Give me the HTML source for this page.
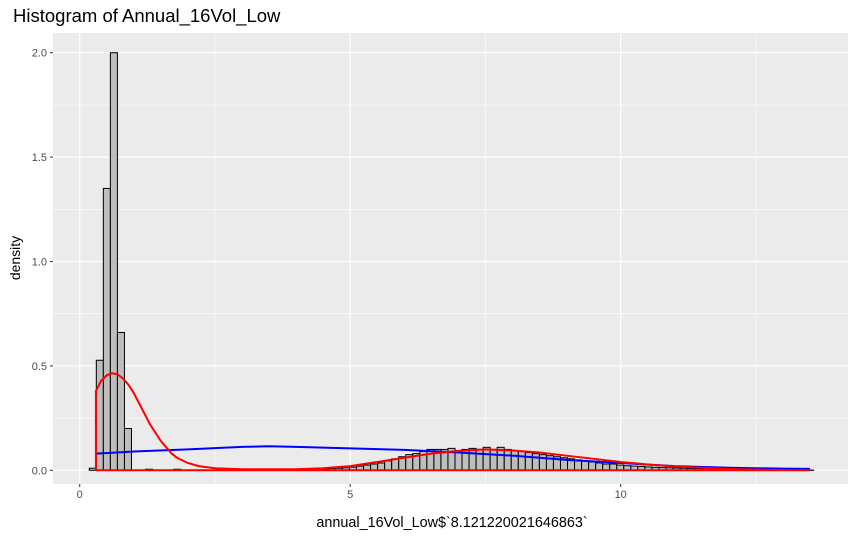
<!DOCTYPE html>
<html><head><meta charset="utf-8"><style>
body{margin:0;background:#fff;font-family:"Liberation Sans",Arial,sans-serif}
svg{display:block}
</style></head><body>
<svg id="chart" width="861" height="537">
<text x="13" y="22" font-size="18.5" fill="#000">Histogram of Annual_16Vol_Low</text>
<rect x="53" y="33" width="795" height="451" fill="#ebebeb"/>
<g id="grid"></g><g id="bars"></g><g id="curves"></g><g id="axes"></g>
<text x="452" y="527" text-anchor="middle" font-size="14.4" fill="#000">annual_16Vol_Low$`8.121220021646863`</text>
<text transform="translate(20,258) rotate(-90)" text-anchor="middle" font-size="14" fill="#000">density</text>
</svg>
<script>
const binStart = 0.177, binWidth = 0.13;
const densities = [0.01,0.527,1.35,2.0,0.66,0.2,0,0,0.005,0,0,0,0.005,0,0,0,0,0,0,0,0,0,0,0,0,0,0,0,0,0,
0.003,0.003,0.005,0.005,0.008,0.01,0.012,0.015,0.02,0.025,0.03,0.035,0.045,0.055,0.065,0.075,0.08,0.09,0.1,0.1,
0.1,0.105,0.095,0.1,0.105,0.1,0.11,0.1,0.11,0.1,0.095,0.09,0.085,0.08,0.075,0.07,0.065,0.06,0.055,0.05,
0.045,0.04,0.035,0.03,0.03,0.025,0.022,0.02,0.018,0.016,0.014,0.013,0.012,0.011,0.01,0.009,0.008,0.008,0.007,0.006,
0.006,0.005,0.005,0.004,0.004,0.003,0.003,0.003,0.002,0.002,0.002,0.002,0.001];
const redX = [0.3,0.3,0.4,0.5,0.6,0.7,0.8,0.9,1.0,1.1,1.2,1.3,1.4,1.5,1.6,1.7,1.8,2.0,2.2,2.5,3,4,4.5,5,5.5,6,6.5,7,7.5,8,8.5,9,9.5,10,10.5,11,11.5,12,12.5,13,13.5,0.3];
const redY = [0,0.38,0.43,0.455,0.465,0.46,0.44,0.41,0.37,0.32,0.27,0.22,0.18,0.14,0.11,0.08,0.06,0.035,0.02,0.01,0.005,0.005,0.01,0.02,0.04,0.06,0.08,0.093,0.1,0.095,0.085,0.07,0.055,0.04,0.028,0.018,0.012,0.006,0.003,0.001,0,0];
const blueX = [0.3,1,2,3,3.5,4,5,6,7,8,9,10,11,12,13,13.5];
const blueY = [0.08,0.09,0.1,0.112,0.115,0.112,0.105,0.098,0.085,0.07,0.05,0.035,0.02,0.012,0.008,0.007];
const xTicks = [0,5,10];
const yTicks = [0,0.5,1.0,1.5,2.0];
const yTickLabels = ["0.0","0.5","1.0","1.5","2.0"];

const NS="http://www.w3.org/2000/svg";
const X = v => 79.7 + v*54.1;
const Y = v => 470.3 - v*208.8;
function mk(tag, attrs, parent){const e=document.createElementNS(NS,tag);for(const k in attrs)e.setAttribute(k,attrs[k]);document.getElementById(parent).appendChild(e);return e;}
[2.5,7.5,12.5].forEach(v=>{const l=mk('line',{x1:X(v),x2:X(v),y1:33,y2:484,stroke:'#fff','stroke-width':0.6},'grid');

});
[0.25,0.75,1.25,1.75].forEach(v=>{const l=mk('line',{x1:53,x2:848,y1:Y(v),y2:Y(v),stroke:'#fff','stroke-width':0.6},'grid');

});
xTicks.forEach(v=>{const l=mk('line',{x1:X(v),x2:X(v),y1:33,y2:484,stroke:'#fff','stroke-width':1.2},'grid');


const t=mk('line',{x1:X(v),x2:X(v),y1:484,y2:487,stroke:'#333'},'axes');


const s=mk('text',{x:X(v),y:498,'text-anchor':'middle','font-size':11,fill:'#4d4d4d'},'axes');
s.textContent=v;

});
yTicks.forEach((v,i)=>{const l=mk('line',{x1:53,x2:848,y1:Y(v),y2:Y(v),stroke:'#fff','stroke-width':1.2},'grid');


const t=mk('line',{x1:50,x2:53,y1:Y(v),y2:Y(v),stroke:'#333'},'axes');


const s=mk('text',{x:47,y:Y(v)+4,'text-anchor':'end','font-size':11,fill:'#4d4d4d'},'axes');
s.textContent=yTickLabels[i];

});
densities.forEach((d,i)=>{const x0=X(binStart+i*binWidth),x1=X(binStart+(i+1)*binWidth);
const r=mk('rect',{x:x0,y:Y(d),width:x1-x0,height:Y(0)-Y(d),fill:'#bebebe',stroke:'#000','stroke-width':1},'bars');

});
const bp=mk('polyline',{points:blueX.map((x,i)=>X(x)+','+Y(blueY[i])).join(' '),fill:'none',stroke:'#0000ff','stroke-width':2},'curves');


const rp=mk('polyline',{points:redX.map((x,i)=>X(x)+','+Y(redY[i])).join(' '),fill:'none',stroke:'#ff0000','stroke-width':2},'curves');


</script>
</body></html>
